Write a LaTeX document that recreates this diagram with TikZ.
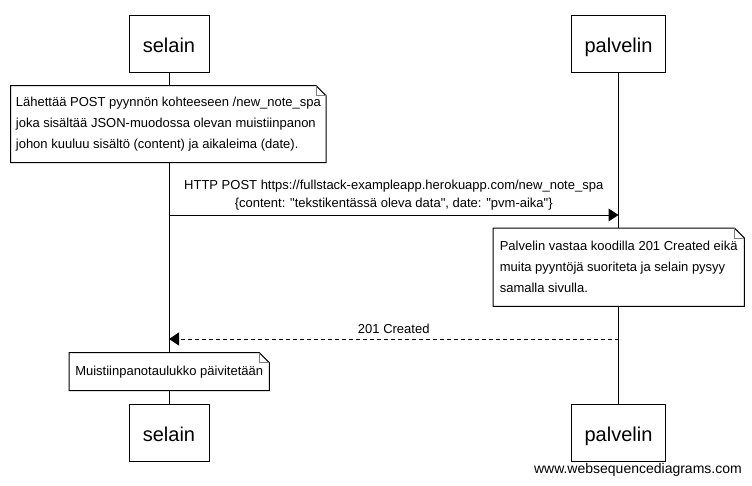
\documentclass[tikz,border=0pt]{standalone}
\usepackage{fontspec}
\setmainfont{Liberation Sans}[Ligatures=TeXOff]
\usetikzlibrary{arrows.meta}

\tikzset{
  actor/.style={draw, line width=1pt, minimum height=57pt, inner sep=0pt,
    text height=18pt, text depth=0pt, font=\fontsize{20}{24}\selectfont},
  memo/.style={fill=white, inner sep=0pt, align=left, anchor=north west,
    font=\fontsize{13}{21}\selectfont},
  msg/.style={line width=1pt, -{Triangle[length=10pt,width=13pt]}},
  reply/.style={msg, dash pattern=on 4pt off 3pt},
  msglabel/.style={anchor=south, inner sep=5pt, align=center,
    font=\fontsize{13}{18}\selectfont}
}

% note outline with folded corner
\newcommand{\dogear}[1]{%
  \draw[line width=1pt] (#1.south west) -- (#1.north west)
    -- ([xshift=-10pt]#1.north east) -- ([yshift=-10pt]#1.north east)
    -- (#1.south east) -- cycle;
  \draw[gray, line width=1pt] ([xshift=-10pt]#1.north east)
    |- ([yshift=-10pt]#1.north east);}

\begin{document}
\begin{tikzpicture}[x=1pt, y=-1pt]
      \fill[white] (0,0) rectangle (752,485);
      \useasboundingbox (0,0) rectangle (752,485);

      % participants
      \node[actor, minimum width=80pt] (selainTop) at (169,43.5) {selain};
      \node[actor, minimum width=94pt] (palvelinTop) at (618.5,43.5) {palvelin};
      \node[actor, minimum width=80pt] (selainBot) at (169,432.5) {selain};
      \node[actor, minimum width=94pt] (palvelinBot) at (618.5,432.5) {palvelin};
      \draw[line width=1pt] (selainTop.south) -- (selainBot.north);
      \draw[line width=1pt] (palvelinTop.south) -- (palvelinBot.north);

      % notes
      \node[memo, minimum width=315pt, minimum height=76.5pt] (noteSend) at (10.7,85.7)
        {Lähettää POST pyynnön kohteeseen /new\_note\_spa\\
         joka sisältää JSON-muodossa olevan muistiinpanon\\
         johon kuuluu sisältö (content) ja aikaleima (date).};
      \dogear{noteSend}
      \node[memo, minimum width=251pt, minimum height=78pt] (noteServer) at (493,228)
        {Palvelin vastaa koodilla 201 Created eikä\\
         muita pyyntöjä suoriteta ja selain pysyy\\
         samalla sivulla.};
      \dogear{noteServer}
      \node[memo, minimum width=200pt, minimum height=37.5pt] (noteUpdate) at (69,352.7)
        {Muistiinpanotaulukko päivitetään};
      \dogear{noteUpdate}

      % messages
      \coordinate (postFrom) at (169,215);
      \coordinate (postTo) at (618.5,215);
      \draw[msg] (postFrom) -- (postTo);
      \node[msglabel] (postLabel) at (393.75,215)
        {HTTP POST https://fullstack-exampleapp.herokuapp.com/new\_note\_spa\\
         \{content: "tekstikentässä oleva data", date: "pvm-aika"\}};
      \coordinate (createdFrom) at (618.5,339);
      \coordinate (createdTo) at (169,339);
      \draw[reply] (createdFrom) -- (createdTo);
      \node[msglabel] (createdLabel) at (393.75,339) {201 Created};

      \node[anchor=base east, inner sep=0pt, font=\fontsize{14}{16}\selectfont] (wsd)
        at (742,473) {www.websequencediagrams.com};
\end{tikzpicture}
\end{document}
